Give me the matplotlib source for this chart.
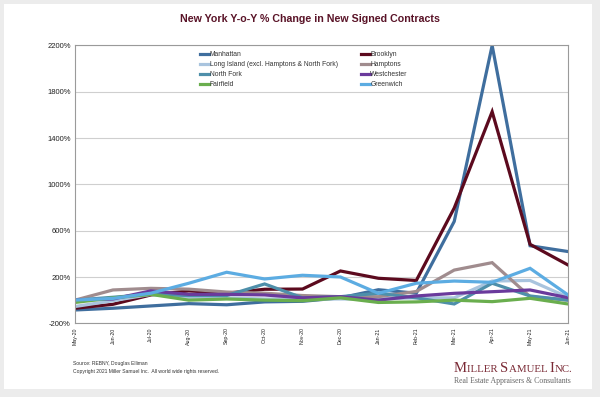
import matplotlib
matplotlib.use("Agg")
import matplotlib.pyplot as plt
import numpy as np

plt.rcParams['font.family'] = ['Liberation Sans', 'DejaVu Sans']

months = ["May-20", "Jun-20", "Jul-20", "Aug-20", "Sep-20", "Oct-20", "Nov-20",
          "Dec-20", "Jan-21", "Feb-21", "Mar-21", "Apr-21", "May-21", "Jun-21"]

manhattan   = [-85, -70, -50, -30, -40, -15, -10, 20, 90, 60, 680, 2200, 470, 420]
brooklyn    = [-70, -36, 45, 80, 60, 94, 96, 252, 189, 170, 796, 1628, 482, 304]
long_island = [-55, -5, 50, 20, 20, 10, 10, 10, 10, 20, 20, 165, 170, 25]
hamptons    = [0, 88, 102, 95, 70, 60, 40, 30, 30, 75, 260, 324, 30, 0]
north_fork  = [0, 25, 50, 40, 40, 140, 20, 30, 60, 20, -33, 146, 36, 0]
westchester = [0, 10, 80, 50, 50, 45, 20, 30, 0, 36, 59, 73, 88, 21]
fairfield   = [-20, 20, 50, 0, 10, 0, -5, 20, -20, -15, 0, -13, 16, -33]
greenwich   = [1, 15, 60, 146, 241, 183, 215, 200, 59, 146, 165, 154, 275, 45]

series = [
    ("Manhattan", manhattan, "#3F6E9E"),
    ("Brooklyn", brooklyn, "#5C0A1E"),
    ("Long Island (excl. Hamptons & North Fork)", long_island, "#A9C4DE"),
    ("Hamptons", hamptons, "#A08C8E"),
    ("North Fork", north_fork, "#4E8FAA"),
    ("Westchester", westchester, "#6A3A9C"),
    ("Fairfield", fairfield, "#6AAE4E"),
    ("Greenwich", greenwich, "#5CACE2"),
]

W, H = 600, 397
fig = plt.figure(figsize=(W / 100, H / 100), dpi=100)
fig.patch.set_facecolor("#ececec")

# white panel
panel = plt.Rectangle((4 / W, 8 / H), 588 / W, 385 / H, transform=fig.transFigure,
                      facecolor="white", edgecolor="none", zorder=-10)
fig.add_artist(panel)

ax = fig.add_axes([75 / W, 1 - 323.3 / H, 493 / W, (323.3 - 45.5) / H])
ax.set_zorder(1)
ax.set_facecolor("white")
x = np.arange(len(months))
handles = {}
for name, vals, col in series:
    ln, = ax.plot(x, vals, color=col, lw=2.3, solid_joinstyle="miter", label=name)
    handles[name] = ln

ax.set_xlim(0, len(months) - 1)
ax.set_ylim(-200, 2200)
yt = np.arange(-200, 2201, 400)
ax.set_yticks(yt)
ax.set_yticklabels([f"{v}%" for v in yt], fontsize=5.5, color="#222222")
ax.set_xticks(x)
ax.set_xticklabels(months, rotation=90, fontsize=3.8, color="#222222")
ax.tick_params(axis="both", length=0, pad=3)
ax.grid(axis="y", color="#cfcfcf", lw=0.8)
ax.set_axisbelow(True)
for s in ax.spines.values():
    s.set_color("#9a9a9a")
    s.set_linewidth(0.8)

order = ["Manhattan", "Long Island (excl. Hamptons & North Fork)", "North Fork", "Fairfield",
         "Brooklyn", "Hamptons", "Westchester", "Greenwich"]
leg = ax.legend([handles[n] for n in order], order, ncol=2, frameon=False,
                loc="upper left", bbox_to_anchor=(200 / W, 1 - 51.5 / H),
                bbox_transform=fig.transFigure, fontsize=4.9, handlelength=1.3,
                handletextpad=0.1, columnspacing=3.4, labelspacing=0.42,
                borderpad=0, borderaxespad=0)
for t in leg.get_texts():
    t.set_color("#333333")

fig.text(310 / W, 1 - 19 / H, "New York Y-o-Y % Change in New Signed Contracts",
         ha="center", va="center", fontsize=7.7, fontweight="bold", color="#5A1428")

fig.text(73 / W, 1 - 363 / H, "Source: REBNY, Douglas Elliman", fontsize=3.6,
         color="#333333", va="center")
fig.text(73 / W, 1 - 371 / H,
         "Copyright 2021 Miller Samuel Inc.  All world wide rights reserved.",
         fontsize=3.6, color="#333333", va="center")

# Logo in small caps
maroon = "#7A2A35"
pieces = [("M", 10.5), ("ILLER ", 7.8), ("S", 10.5), ("AMUEL ", 7.8), ("I", 10.5), ("NC.", 7.8)]
fig.canvas.draw()
rend = fig.canvas.get_renderer()
xpos = 454.0
for txt, fs in pieces:
    t = fig.text(xpos / W, 1 - 372 / H, txt, fontsize=fs, family="Liberation Serif",
                 color=maroon, va="baseline", ha="left")
    bb = t.get_window_extent(renderer=rend)
    xpos += bb.width
fig.text(454 / W, 1 - 381 / H, "Real Estate Appraisers & Consultants",
         fontsize=5.6, family="Liberation Serif", color="#666666", va="center", ha="left")

fig.savefig("out.png", dpi=100, facecolor=fig.get_facecolor())
